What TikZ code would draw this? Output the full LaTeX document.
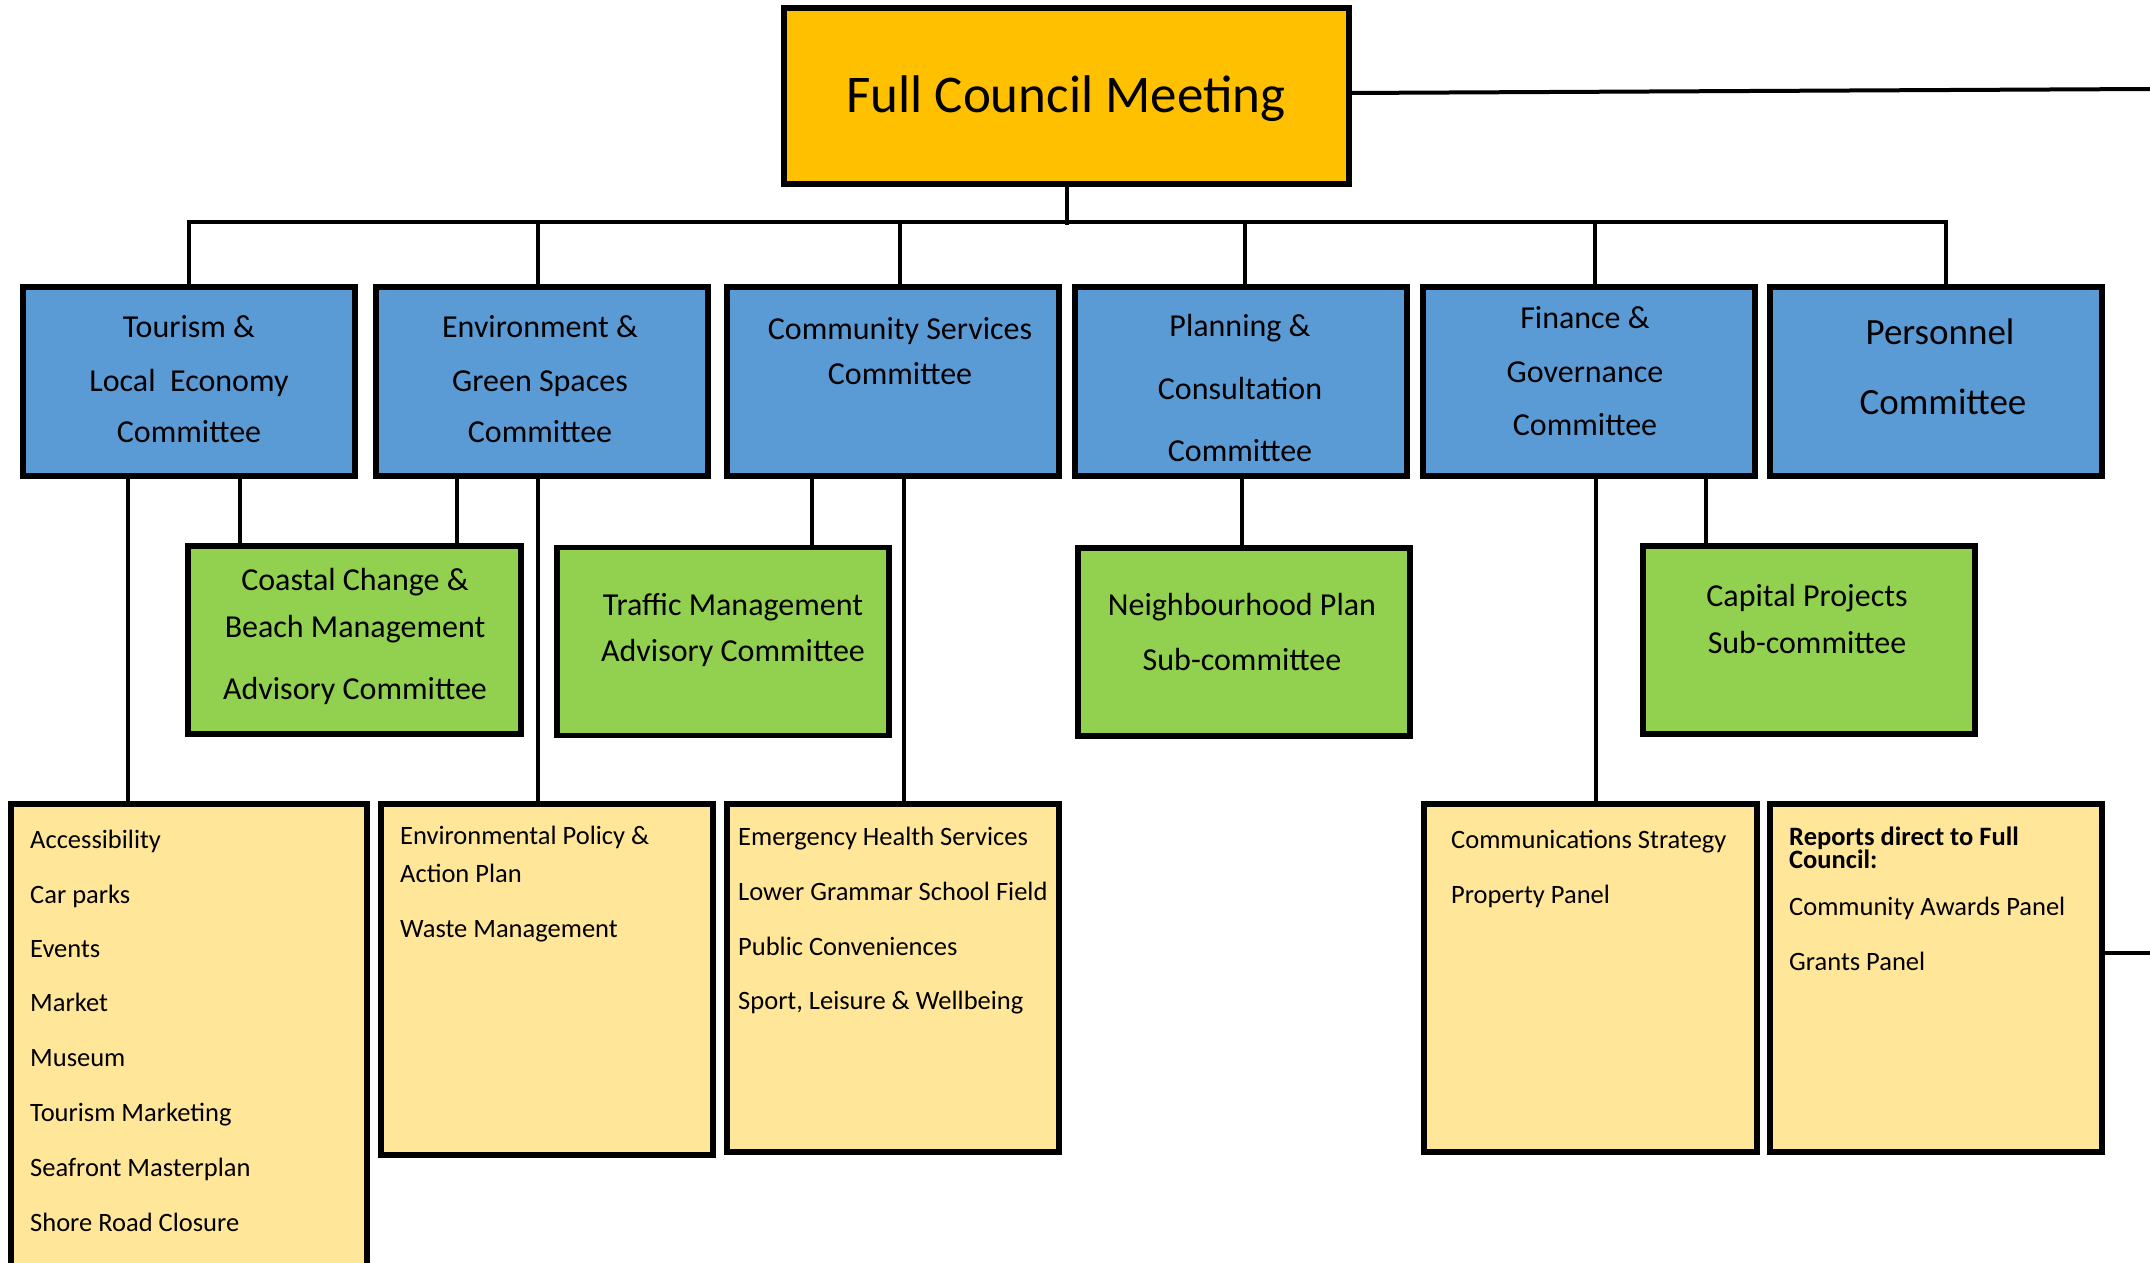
\documentclass[tikz,border=0pt]{standalone}
\usepackage{fontspec}
\setmainfont{Carlito}
\definecolor{corange}{HTML}{FFC000}
\definecolor{cblue}{HTML}{5B9BD5}
\definecolor{cgreen}{HTML}{92D050}
\definecolor{cyellow}{HTML}{FFE699}
\tikzset{
  box/.style={draw=black, line width=5.5pt, inner sep=0pt, outer sep=0pt},
  topbox/.style={box, fill=corange, minimum width=565pt, minimum height=176pt},
  bluebox/.style={box, fill=cblue, minimum width=332pt, minimum height=189pt},
  greenbox/.style={box, fill=cgreen, minimum width=332pt, minimum height=188pt},
  yellowbox/.style={box, fill=cyellow, minimum width=332pt, minimum height=348pt},
  conn/.style={draw=black, line width=4pt, line join=miter},
  tc/.style={anchor=base, inner sep=0pt, font=\fontsize{32}{38}\selectfont},
  tcbig/.style={anchor=base, inner sep=0pt, font=\fontsize{37}{44}\selectfont},
  ty/.style={anchor=base west, inner sep=0pt, font=\fontsize{26.5}{32}\selectfont},
  tyb/.style={anchor=base west, inner sep=0pt, font=\fontsize{26.5}{32}\selectfont\bfseries},
}
\begin{document}
\begin{tikzpicture}[x=1pt,y=-1pt]
\useasboundingbox (0,0) rectangle (2150,1263);
\clip (0,0) rectangle (2150,1263);
\fill[white] (0,0) rectangle (2150,1263);

% boxes
\node[topbox] (fc) at (1066.5,96) {};
\node[bluebox] (b1) at (189,381.5) {};
\node[bluebox] (b2) at (542,381.5) {};
\node[bluebox] (b3) at (893,381.5) {};
\node[bluebox] (b4) at (1241,381.5) {};
\node[bluebox] (b5) at (1589,381.5) {};
\node[bluebox] (b6) at (1936,381.5) {};
\node[greenbox, minimum width=333pt] (g1) at (354.5,640) {};
\node[greenbox] (g2) at (723,641.5) {};
\node[greenbox] (g3) at (1244,642) {};
\node[greenbox] (g4) at (1809,640) {};
\node[yellowbox, minimum width=356pt, minimum height=486pt] (y1) at (189,1047) {};
\node[yellowbox, minimum height=351pt] (y2) at (547,979.5) {};
\node[yellowbox] (y3) at (893,978) {};
\node[yellowbox, minimum width=333pt] (y4) at (1590.5,978) {};
\node[yellowbox] (y5) at (1936,978) {};

% connector coordinates
\coordinate (busL) at (189,221.5);
\coordinate (busR) at (1946,221.5);
\coordinate (busbot) at (1066.5,225);
\coordinate (x2) at (537.5,0);
\coordinate (x3) at (899.5,0);
\coordinate (x4) at (1245,0);
\coordinate (x5) at (1595,0);
\coordinate (l1) at (127.5,0);
\coordinate (l2) at (240,0);
\coordinate (l3) at (456.6,0);
\coordinate (l4) at (537.5,0);
\coordinate (l5) at (811.7,0);
\coordinate (l6) at (903.6,0);
\coordinate (l7) at (1242,0);
\coordinate (l8) at (1596,0);
\coordinate (l9) at (1706,0);
\coordinate (offA) at (2150,89);
\coordinate (offB) at (2150,953);

% connectors
\draw[conn] (fc.south) -- (busbot);
\draw[conn] (b1.north -| busL) -- (busL) -- (busR) -- (b6.north -| busR);
\draw[conn] (busL -| x2) -- (b2.north -| x2);
\draw[conn] (busL -| x3) -- (b3.north -| x3);
\draw[conn] (busL -| x4) -- (b4.north -| x4);
\draw[conn] (busL -| x5) -- (b5.north -| x5);
\draw[conn] (b1.south -| l1) -- (y1.north -| l1);
\draw[conn] (b1.south -| l2) -- (g1.north -| l2);
\draw[conn] (b2.south -| l3) -- (g1.north -| l3);
\draw[conn] (b2.south -| l4) -- (y2.north -| l4);
\draw[conn] (b3.south -| l5) -- (g2.north -| l5);
\draw[conn] (b3.south -| l6) -- (y3.north -| l6);
\draw[conn] (b4.south -| l7) -- (g3.north -| l7);
\draw[conn] (b5.south -| l8) -- (y4.north -| l8);
\draw[conn] (b5.south -| l9) -- (g4.north -| l9);
\draw[conn] ([yshift=3pt]fc.east) -- (offA);
\draw[conn] (y5.east |- offB) -- (offB);

% texts
\node[anchor=base, inner sep=0pt, font=\fontsize{53}{60}\selectfont] (tfc) at (1066,112) {Full Council Meeting};

\node[tc] (t1a) at (189,337) {Tourism \&};
\node[tc] (t1b) at (189,391) {Local~~Economy};
\node[tc] (t1c) at (189,442) {Committee};
\node[tc] (t2a) at (540,337) {Environment \&};
\node[tc] (t2b) at (540,391) {Green Spaces};
\node[tc] (t2c) at (540,442) {Committee};
\node[tc] (t3a) at (900,339) {Community Services};
\node[tc] (t3b) at (900,384) {Committee};
\node[tc] (t4a) at (1240,336) {Planning \&};
\node[tc] (t4b) at (1240,399) {Consultation};
\node[tc] (t4c) at (1240,461) {Committee};
\node[tc] (t5a) at (1585,328) {Finance \&};
\node[tc] (t5b) at (1585,382) {Governance};
\node[tc] (t5c) at (1585,435) {Committee};
\node[tcbig] (t6a) at (1940,344) {Personnel};
\node[tcbig] (t6b) at (1943,414) {Committee};

\node[tc] (tg1a) at (355,590) {Coastal Change \&};
\node[tc] (tg1b) at (355,637) {Beach Management};
\node[tc] (tg1c) at (355,699) {Advisory Committee};
\node[tc] (tg2a) at (733,615) {Traffic Management};
\node[tc] (tg2b) at (733,661) {Advisory Committee};
\node[tc] (tg3a) at (1242,615) {Neighbourhood Plan};
\node[tc] (tg3b) at (1242,670) {Sub-committee};
\node[tc] (tg4a) at (1807,606) {Capital Projects};
\node[tc] (tg4b) at (1807,653) {Sub-committee};

\node[ty] (ty1a) at (30,848) {Accessibility};
\node[ty] (ty1b) at (30,903) {Car parks};
\node[ty] (ty1c) at (30,957) {Events};
\node[ty] (ty1d) at (30,1011) {Market};
\node[ty] (ty1e) at (30,1066) {Museum};
\node[ty] (ty1f) at (30,1121) {Tourism Marketing};
\node[ty] (ty1g) at (30,1176) {Seafront Masterplan};
\node[ty] (ty1h) at (30,1231) {Shore Road Closure};

\node[ty] (ty2a) at (400,844) {Environmental Policy \&};
\node[ty] (ty2b) at (400,882) {Action Plan};
\node[ty] (ty2c) at (400,937) {Waste Management};

\node[ty] (ty3a) at (738,845) {Emergency Health Services};
\node[ty] (ty3b) at (738,900) {Lower Grammar School Field};
\node[ty] (ty3c) at (738,955) {Public Conveniences};
\node[ty] (ty3d) at (738,1009) {Sport, Leisure \& Wellbeing};

\node[ty] (ty4a) at (1451,848) {Communications Strategy};
\node[ty] (ty4b) at (1451,903) {Property Panel};

\node[tyb] (ty5a) at (1789,845) {Reports direct to Full};
\node[tyb] (ty5b) at (1789,868) {Council:};
\node[ty] (ty5c) at (1789,915) {Community Awards Panel};
\node[ty] (ty5d) at (1789,970) {Grants Panel};
\end{tikzpicture}
\end{document}
